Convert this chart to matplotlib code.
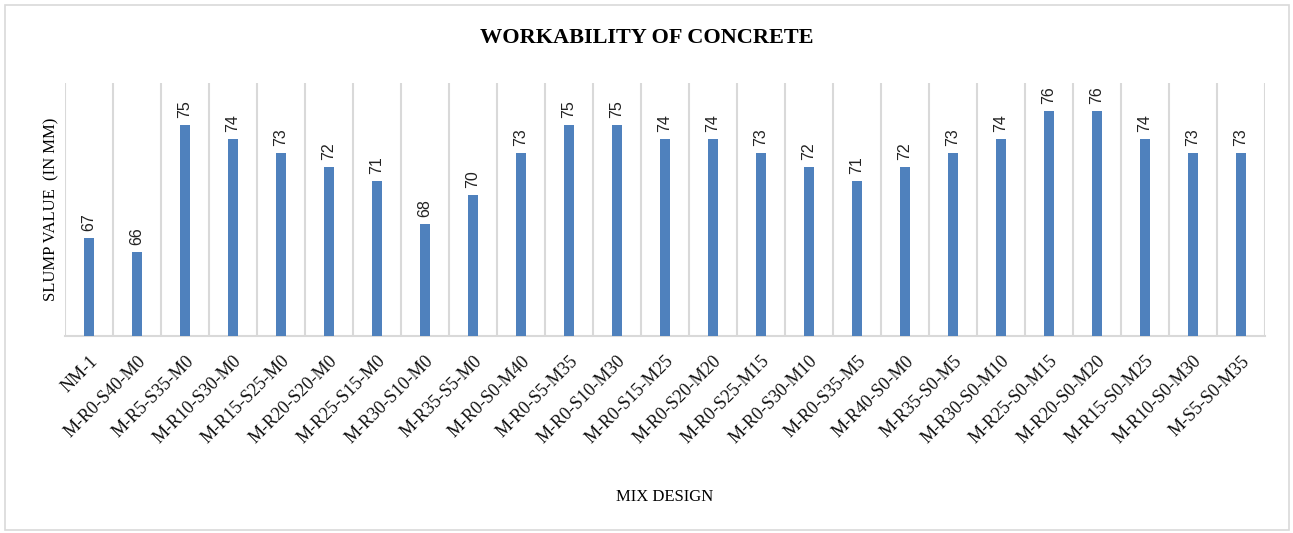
"""
Workability of concrete - slump value per mix design
"""

import matplotlib.pyplot as plt
import numpy as np

# =====================================================
# DATA
# =====================================================
mixes = [
    "NM-1", "M-R0-S40-M0", "M-R5-S35-M0", "M-R10-S30-M0", "M-R15-S25-M0",
    "M-R20-S20-M0", "M-R25-S15-M0", "M-R30-S10-M0", "M-R35-S5-M0",
    "M-R0-S0-M40", "M-R0-S5-M35", "M-R0-S10-M30", "M-R0-S15-M25",
    "M-R0-S20-M20", "M-R0-S25-M15", "M-R0-S30-M10", "M-R0-S35-M5",
    "M-R40-S0-M0", "M-R35-S0-M5", "M-R30-S0-M10", "M-R25-S0-M15",
    "M-R20-S0-M20", "M-R15-S0-M25", "M-R10-S0-M30", "M-S5-S0-M35",
]
slump = [67, 66, 75, 74, 73, 72, 71, 68, 70, 73, 75, 75, 74,
         74, 73, 72, 71, 72, 73, 74, 76, 76, 74, 73, 73]

BAR_COLOR = "#4F81BD"
GRID_COLOR = "#D9D9D9"

# =====================================================
# PLOTTING
# =====================================================
fig = plt.figure(figsize=(12.93, 5.33), dpi=100)
ax = fig.add_axes([0.0503, 0.3696, 0.928, 0.4747])

x = np.arange(len(mixes))
ax.bar(x, slump, width=0.19, color=BAR_COLOR, zorder=3)

for xi, v in zip(x, slump):
    ax.annotate(str(v), (xi, v), xytext=(0, 5), textcoords="offset points",
                rotation=90, ha="center", va="bottom",
                fontsize=11.5, family="Liberation Sans", color="#222222")

ax.set_xlim(-0.5, len(mixes) - 0.5)
ax.set_ylim(60, 78)

# vertical separators between categories
for b in np.arange(-0.5, len(mixes), 1.0):
    ax.axvline(b, color=GRID_COLOR, linewidth=1.5, zorder=1)

for s in ["top", "right", "left"]:
    ax.spines[s].set_visible(False)
ax.spines["bottom"].set_color(GRID_COLOR)
ax.spines["bottom"].set_linewidth(1.5)

ax.set_yticks([])
ax.set_xticks(x)
ax.set_xticklabels(mixes, rotation=45, ha="right", rotation_mode="anchor",
                   fontsize=13, family="Liberation Serif", color="#111111")
ax.tick_params(axis="x", length=0, pad=12)

ax.set_ylabel("SLUMP VALUE  (IN MM)", fontsize=12, family="Liberation Serif",
              labelpad=4)
fig.text(0.514, 0.068, "MIX DESIGN", ha="center", va="center",
         fontsize=12, family="Liberation Serif")

fig.text(0.5, 0.928, "WORKABILITY OF CONCRETE", ha="center", va="center",
         fontsize=16, fontweight="bold", family="Liberation Serif")

# light outer frame
fig.patches.append(plt.Rectangle((0.004, 0.006), 0.993, 0.985,
                                 transform=fig.transFigure, fill=False,
                                 edgecolor=GRID_COLOR, linewidth=1.2))

fig.savefig("out.png", dpi=100)
